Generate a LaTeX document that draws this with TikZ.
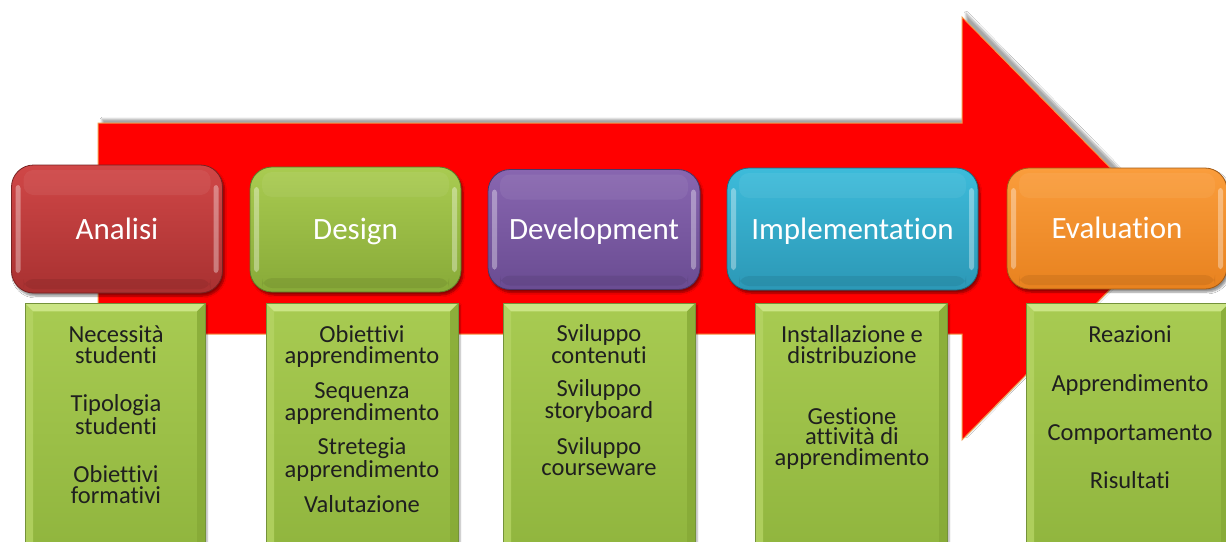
\documentclass[tikz,border=0pt]{standalone}
\usepackage{fontspec}
\setmainfont{Carlito}[Ligatures={NoCommon,NoContextual}]
\usetikzlibrary{shadows.blur}

% palette
\definecolor{arrowred}{HTML}{FF0000}
\definecolor{arrowedge}{HTML}{F29A4A}
\definecolor{anaTop}{HTML}{D04747}
\definecolor{anaBot}{HTML}{A83131}
\definecolor{desTop}{HTML}{A9CB51}
\definecolor{desBot}{HTML}{88AA38}
\definecolor{devTop}{HTML}{8866B0}
\definecolor{devBot}{HTML}{6A4C92}
\definecolor{impTop}{HTML}{3DBBDA}
\definecolor{impBot}{HTML}{2C98B6}
\definecolor{evaTop}{HTML}{FA9D3C}
\definecolor{evaBot}{HTML}{E8821F}
\definecolor{panelTop}{HTML}{A8CB52}
\definecolor{panelBot}{HTML}{8FB43D}
\definecolor{panelEdge}{HTML}{74923A}
\definecolor{bevelTop}{HTML}{CBE585}
\definecolor{bevelLeft}{HTML}{B5D464}
\definecolor{bevelRight}{HTML}{86A936}

\tikzset{
  titlebox/.style 2 args={
    rectangle, rounded corners=22pt,
    top color=#1, bottom color=#2,
    draw=#2!70!black, line width=0.8pt,
    text=white, font=\fontsize{31}{31}\selectfont,
    text height=20pt, text depth=0pt,
    blur shadow={shadow xshift=2pt, shadow yshift=-3pt, shadow opacity=45, shadow blur steps=6},
    path picture={
      \fill[white, opacity=0.35, rounded corners=3pt]
        ([xshift=4pt,yshift=20pt]path picture bounding box.south west)
        rectangle ([xshift=9pt,yshift=-20pt]path picture bounding box.north west);
      \fill[white, opacity=0.35, rounded corners=3pt]
        ([xshift=-4pt,yshift=20pt]path picture bounding box.south east)
        rectangle ([xshift=-9pt,yshift=-20pt]path picture bounding box.north east);
      \fill[white, opacity=0.06, rounded corners=10pt]
        ([xshift=12pt,yshift=-5pt]path picture bounding box.north west)
        rectangle ([xshift=-12pt,yshift=-30pt]path picture bounding box.north east);
      \fill[black, opacity=0.07, rounded corners=10pt]
        ([xshift=12pt,yshift=4pt]path picture bounding box.south west)
        rectangle ([xshift=-12pt,yshift=14pt]path picture bounding box.south east);
    }
  },
  panel/.style={
    rectangle, anchor=north, minimum height=260pt,
    top color=panelTop, bottom color=panelBot,
    draw=panelEdge, line width=0.6pt,
    blur shadow={shadow xshift=2pt, shadow yshift=-2pt, shadow opacity=35, shadow blur steps=5},
    path picture={
      \coordinate (pnw) at (path picture bounding box.north west);
      \coordinate (pne) at (path picture bounding box.north east);
      \coordinate (psw) at (path picture bounding box.south west);
      \coordinate (pse) at (path picture bounding box.south east);
      \fill[bevelTop] (pnw) -- (pne) -- ([xshift=-8pt,yshift=-8pt]pne) -- ([xshift=8pt,yshift=-8pt]pnw) -- cycle;
      \fill[bevelLeft, opacity=0.8] (pnw) -- ([xshift=8pt,yshift=-8pt]pnw) -- ([xshift=8pt]psw) -- (psw) -- cycle;
      \fill[bevelRight, opacity=0.8] (pne) -- ([xshift=-8pt,yshift=-8pt]pne) -- ([xshift=-8pt]pse) -- (pse) -- cycle;
    }
  },
  % blocks are anchored at the baseline of their last line
  bodytext/.style={anchor=base, inner sep=0pt, text=black!88, align=center,
    font=\fontsize{24.5}{20.5}\selectfont}
}

\begin{document}
\begin{tikzpicture}[x=1pt, y=-1pt]
\useasboundingbox (0,0) rectangle (1226,541);
\clip (0,0) rectangle (1226,541);
\fill[white] (0,0) rectangle (1226,541);

% the big process arrow
\draw[fill=arrowred, draw=arrowedge, line width=1pt, line join=miter,
      blur shadow={shadow xshift=4pt, shadow yshift=4pt, shadow opacity=35, shadow blur steps=8}]
  (98,123) coordinate (shaftTL) -- (962,123) -- (962,17) -- (1170,228.5) coordinate (tip)
  -- (962,440) -- (962,334) -- (98,334) -- cycle;

% phase headers
\node[titlebox={anaTop}{anaBot}, minimum width=211pt, minimum height=128pt] (analisi) at (117,229) {Analisi};
\node[titlebox={desTop}{desBot}, minimum width=211pt, minimum height=125pt] (design) at (355.5,229.5) {Design};
\node[titlebox={devTop}{devBot}, minimum width=212pt, minimum height=120pt] (development) at (594,229.5) {Development};
\node[titlebox={impTop}{impBot}, minimum width=251pt, minimum height=122pt] (implementation) at (852.5,229) {Implementation};
\node[titlebox={evaTop}{evaBot}, minimum width=220pt, minimum height=121pt] (evaluation) at (1117,228.5) {Evaluation};

% detail panels
\node[panel, minimum width=180pt] (pAnalisi) at (115,303) {};
\node[panel, minimum width=192pt] (pDesign) at (362,303) {};
\node[panel, minimum width=192pt] (pDevelopment) at (599,303) {};
\node[panel, minimum width=192pt] (pImplementation) at (851,303) {};
\node[panel, minimum width=203pt] (pEvaluation) at (1127.5,303) {};

% panel contents
\node[bodytext] (ta1) at (116,363) {Necessità\\studenti};
\node[bodytext] (ta2) at (116,434) {Tipologia\\studenti};
\node[bodytext] (ta3) at (116,503) {Obiettivi\\formativi};

\node[bodytext] (td1) at (362,363) {Obiettivi\\apprendimento};
\node[bodytext] (td2) at (362,420) {Sequenza\\apprendimento};
\node[bodytext] (td3) at (362,477) {Stretegia\\apprendimento};
\node[bodytext] (td4) at (362,512) {Valutazione};

\node[bodytext] (tv1) at (599,363) {Sviluppo\\contenuti};
\node[bodytext] (tv2) at (599,418) {Sviluppo\\storyboard};
\node[bodytext] (tv3) at (599,475) {Sviluppo\\courseware};

\node[bodytext] (ti1) at (852,363) {Installazione e\\distribuzione};
\node[bodytext] (ti2) at (852,465) {Gestione\\attività di\\apprendimento};

\node[bodytext] (te1) at (1130,342) {Reazioni};
\node[bodytext] (te2) at (1130,391) {Apprendimento};
\node[bodytext] (te3) at (1130,440) {Comportamento};
\node[bodytext] (te4) at (1130,488) {Risultati};
\end{tikzpicture}
\end{document}
